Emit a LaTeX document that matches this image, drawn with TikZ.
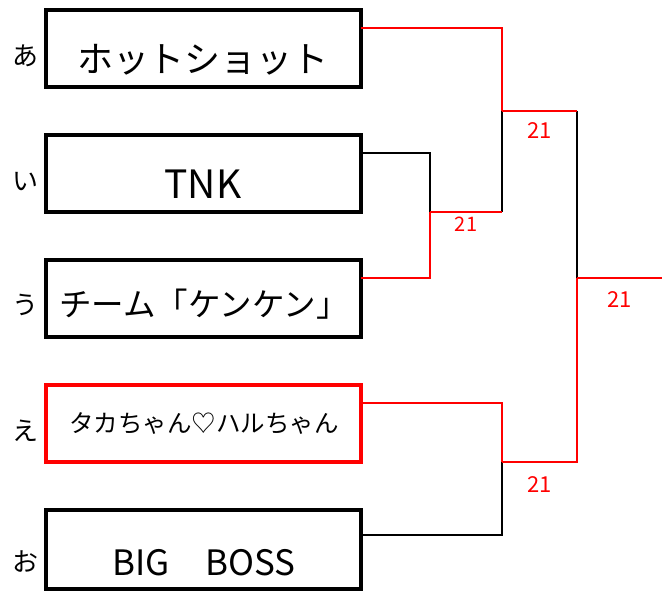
\documentclass[tikz,border=0pt]{standalone}
\usepackage{fontspec}
\setmainfont{Noto Sans CJK JP}
\usepackage{tikz}
\usetikzlibrary{positioning}
\tikzset{team/.style={draw, line width=4pt, minimum width=315pt, minimum height=77pt,
           outer sep=0pt, inner sep=0pt},
         win/.style={draw=red, line width=2.3pt},
         lose/.style={draw=black, line width=2.3pt}}
\tikzstyle{seed}=[inner sep=0pt, font=\fontsize{26}{26}\selectfont]
\tikzstyle{teamname}=[inner sep=0pt]
\tikzstyle{score}=[text=red, inner sep=0pt, font=\fontsize{22}{22}\selectfont]

\begin{document}
\begin{tikzpicture}[x=1pt, y=-1pt]
  \useasboundingbox (0,0) rectangle (670,591);
  % entries
  \node[team] (hot) at (203,48.5) {};
  \node[team, below=48pt of hot] (tnk) {};
  \node[team, below=48pt of tnk] (ken) {};
  \node[team, draw=red, below=48pt of ken] (taka) {};
  \node[team, minimum height=79pt, below=48pt of taka] (big) {};
  \node[teamname, yshift=-11.5pt, font=\fontsize{36}{36}\selectfont] (hot-name) at (hot) {ホットショット};
  \node[teamname, yshift=-11pt, font=\fontsize{39}{39}\selectfont] (tnk-name) at (tnk) {TNK};
  \node[teamname, yshift=-5.5pt, xshift=1pt, font=\fontsize{32.5}{32.5}\selectfont] (ken-name) at (ken) {チーム「ケンケン」};
  \node[teamname, xshift=1pt, font=\fontsize{24.5}{24.5}\selectfont] (taka-name) at (taka) {タカちゃん♡ハルちゃん};
  \node[teamname, yshift=-13.5pt, xshift=1pt, font=\fontsize{35}{35}\selectfont] (big-name) at (big) {BIG　BOSS};
  \node[seed, left=7pt of hot, yshift=-7.5pt] (a) {あ};
  \node[seed, left=7pt of tnk, yshift=-8.5pt] (i) {い};
  \node[seed, left=7pt of ken, yshift=-6.5pt] (u) {う};
  \node[seed, left=7pt of taka, yshift=-7.5pt] (e) {え};
  \node[seed, left=7pt of big, yshift=-12.5pt] (o) {お};
  % joints
  \coordinate (q1) at (430,212);
  \coordinate (q2) at (502,111);
  \coordinate (q3) at (502,462);
  \coordinate (fin) at (577,278);
  \coordinate (champ) at (662,278);
  % first round
  \draw[lose] ([yshift=-18pt]tnk.north east) -| (q1);
  \draw[win] ([yshift=-18pt]ken.north east) -| (q1);
  \draw[lose] (q1 -| q2) -- (q2);
  \draw[win] (q1) -- node[score, yshift=-12pt, font=\fontsize{20}{20}\selectfont] (s1) {21} (q1 -| q2);
  % semi finals
  \draw[win] ([yshift=-18pt]hot.north east) -| (q2);
  \draw[lose] ([yshift=-25pt]big.north east) -| (q3);
  \draw[win] ([yshift=-18pt]taka.north east) -| (q3);
  % final
  \draw[lose] (q2 -| fin) -- (fin);
  \draw[win] (q2) -- node[score, yshift=-20pt] (s2) {21} (q2 -| fin);
  \draw[win] (q3) -- node[score, yshift=-23pt] (s4) {21} (q3 -| fin) -- (fin);
  \draw[win] (fin) -- node[score, yshift=-22pt] (s3) {21} (champ);
\end{tikzpicture}
\end{document}
